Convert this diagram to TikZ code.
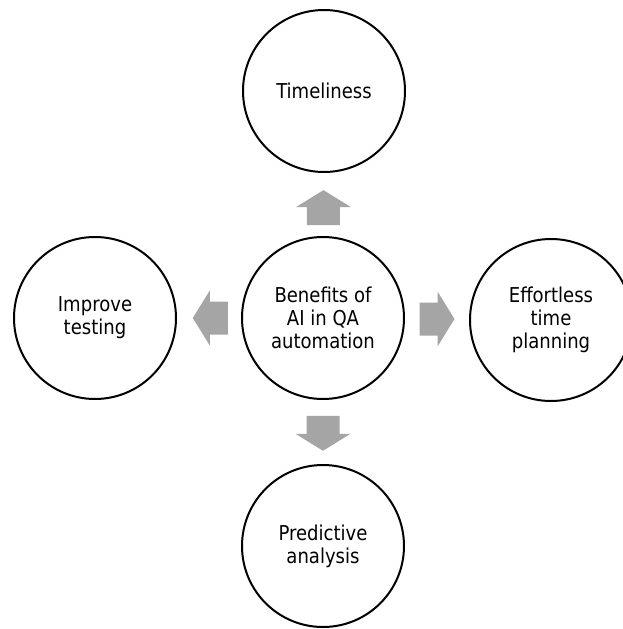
\documentclass[tikz,border=0pt]{standalone}
\usepackage{fontspec}
\setmainfont{DejaVu Sans}[FakeStretch=0.88]
\usetikzlibrary{calc}
\definecolor{arrowgray}{HTML}{A5A5A5}
\tikzset{
  bubble/.style={circle, draw=black, line width=2pt, minimum size=162pt, inner sep=0pt,
    align=center, font=\fontsize{20.5pt}{23pt}\selectfont, text=black},
  blockarrow/.style={fill=arrowgray, draw=none}
}
\newcommand{\blockarr}[2]{%
  \begin{scope}[shift={(#1)}, rotate=#2]
    \fill[blockarrow] (-17.5,-16.5) -- (0.5,-16.5) -- (0.5,-27.5) -- (17.5,0) -- (0.5,27.5) -- (0.5,16.5) -- (-17.5,16.5) -- cycle;
  \end{scope}}
\begin{document}
\begin{tikzpicture}[x=1pt, y=-1pt]
  \useasboundingbox (0,0) rectangle (623,629);
  \clip (0,0) rectangle (623,629);
  \fill[white] (0,0) rectangle (623,629);
  \node[bubble] (c) at (323,318) {Benefits of\\AI in QA\\automation};
  \node[bubble] (t) at (324,91) {Timeliness};
  \node[bubble] (l) at (95,318) {Improve\\testing};
  \node[bubble] (r) at (551,320) {Effortless\\time\\planning};
  \node[bubble] (b) at (323,546) {Predictive\\analysis};
  \coordinate (au) at ($(c.north)!0.45!(t.south)$);
  \coordinate (al) at ($(c.west)!0.48!(l.east)$);
  \coordinate (ar) at ($(c.east)!0.5!(r.west)$);
  \coordinate (ad) at ($(c.south)!0.52!(b.north)$);
  \blockarr{au}{90}
  \blockarr{al}{180}
  \blockarr{ar}{0}
  \blockarr{ad}{-90}
\end{tikzpicture}
\end{document}
